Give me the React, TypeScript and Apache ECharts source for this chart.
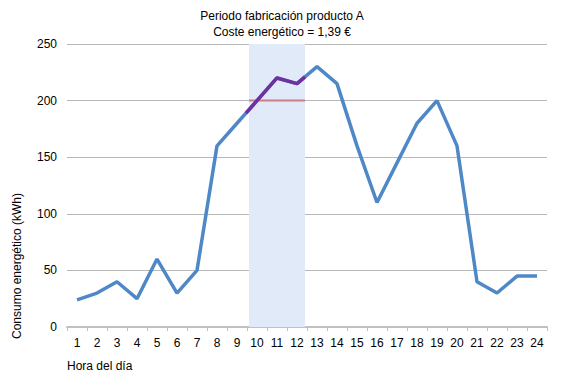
import React, { useEffect, useRef } from "react";
import * as echarts from "echarts";

const hours = ["1","2","3","4","5","6","7","8","9","10","11","12","13","14","15","16","17","18","19","20","21","22","23","24"];
const consumption = [24, 30, 40, 25, 60, 30, 50, 160, 180, 200, 220, 215, 230, 215, 160, 110, 145, 180, 200, 160, 40, 30, 45, 45];
// Production period (hour positions on a continuous scale)
const periodStart = 9.6;
const periodEnd = 12.4;
const periodLevel = 200;
const productionLine: [number, number][] = [[9.45, 189], [10, 200], [11, 220], [12, 215], [12.4, 221]];
const titleLines = ["Periodo fabricación producto A", "Coste energético = 1,39 €"];

export default function App() {
  const ref = useRef<HTMLDivElement>(null);
  useEffect(() => {
    if (!ref.current) return;
    const chart = echarts.init(ref.current, undefined, { renderer: "svg" });
    const font = "'Liberation Sans', Arial, sans-serif";
    chart.setOption({
      animation: false,
      backgroundColor: "#ffffff",
      textStyle: { fontFamily: font },
      title: {
        text: titleLines.join("\n"),
        left: "center",
        top: 3,
        textStyle: { fontSize: 12, fontWeight: "normal", color: "#000", lineHeight: 16, fontFamily: font, align: "center" },
      },
      grid: { left: 67, right: 17, top: 44, bottom: 55, containLabel: false },
      xAxis: [
        {
          type: "category",
          data: hours,
          boundaryGap: true,
          axisLine: { lineStyle: { color: "#c0c0c0", width: 2 } },
          axisTick: { show: true, alignWithLabel: false, length: 4, lineStyle: { color: "#c0c0c0", width: 1 } },
          axisLabel: { color: "#000", fontSize: 12, margin: 10, interval: 0, fontFamily: font },
          splitLine: { show: false },
        },
        { type: "value", min: 0.5, max: 24.5, show: false },
      ],
      yAxis: {
        type: "value",
        min: 0,
        max: 250,
        interval: 50,
        axisLine: { show: false },
        axisTick: { show: false },
        axisLabel: { color: "#000", fontSize: 12, margin: 10, fontFamily: font },
        splitLine: { lineStyle: { color: "#b8b8b8", width: 1 } },
      },
      graphic: [
        {
          type: "text",
          x: 17,
          y: 266,
          rotation: Math.PI / 2,
          style: { text: "Consumo energético (kWh)", font: `12px ${font}`, fill: "#000", align: "center", verticalAlign: "middle" },
        },
        {
          type: "text",
          x: 67,
          y: 366,
          style: { text: "Hora del día", font: `12px ${font}`, fill: "#000", align: "left", verticalAlign: "middle" },
        },
      ],
      series: [
        {
          type: "line",
          xAxisIndex: 1,
          data: [],
          z: 0,
          silent: true,
          markArea: {
            silent: true,
            itemStyle: { color: "#e0eaf8" },
            data: [[{ xAxis: periodStart }, { xAxis: periodEnd }]],
          },
        },
        {
          type: "line",
          xAxisIndex: 1,
          data: [[periodStart, periodLevel], [periodEnd, periodLevel]],
          symbol: "none",
          lineStyle: { color: "#cd7d86", width: 2 },
          z: 2,
        },
        {
          type: "line",
          data: consumption,
          symbol: "none",
          lineStyle: { color: "#4f88c6", width: 3.5 },
          z: 3,
        },
        {
          type: "line",
          xAxisIndex: 1,
          data: productionLine,
          symbol: "none",
          lineStyle: { color: "#7030a0", width: 3.5 },
          z: 4,
        },
      ],
    });
    return () => chart.dispose();
  }, []);
  return <div ref={ref} style={{ width: 564, height: 382, position: "absolute", left: 0, top: 0 }} />;
}
